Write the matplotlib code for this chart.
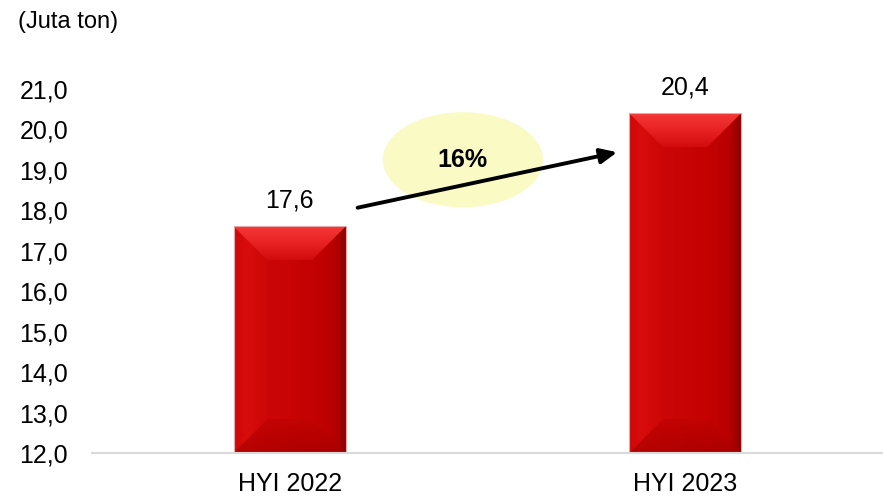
import numpy as np
import matplotlib.pyplot as plt
from matplotlib.patches import Polygon, Ellipse
from matplotlib.colors import LinearSegmentedColormap
from matplotlib.transforms import IdentityTransform

plt.rcParams['font.family'] = ['Liberation Sans', 'DejaVu Sans']

# data
categories = ['HYI 2022', 'HYI 2023']
values = [17.6, 20.4]
value_labels = ['17,6', '20,4']
growth_label = '16%'
yticks = np.arange(12, 21.5, 1.0)
ytick_labels = [f'{v:.1f}'.replace('.', ',') for v in yticks]

fig = plt.figure(figsize=(8.83, 4.97), dpi=100)
ax = fig.add_axes([0.104, 0.0885, 0.896, 0.7325])
x = np.arange(len(categories))
bar_w = 0.283

bars = ax.bar(x, np.array(values) - 12, bottom=12, width=bar_w, color='#C80606',
              edgecolor='none', zorder=2)
ax.set_xlim(-0.5, 1.5)
ax.set_ylim(12, 21)
ax.set_yticks(yticks)
ax.set_yticklabels(ytick_labels)
ax.set_xticks(x)
ax.set_xticklabels(categories)
ax.tick_params(axis='y', length=0, pad=17, labelsize=18)
ax.tick_params(axis='x', length=0, pad=14, labelsize=18)
for s in ['left', 'right', 'top']:
    ax.spines[s].set_visible(False)
ax.spines['bottom'].set_color('#D9D9D9')
ax.spines['bottom'].set_linewidth(1.5)

# bevel effect drawn in pixel space
fig.canvas.draw()
hgrad = np.linspace(0, 1, 200).reshape(1, -1)
vgrad = np.linspace(0, 1, 100).reshape(-1, 1)
face_cmap = LinearSegmentedColormap.from_list(
    'f', [(0, '#D00808'), (0.12, '#D80C0C'), (0.3, '#CC0606'), (0.7, '#C40202'),
          (0.9, '#B80000'), (1, '#8E0000')])
top_cmap = LinearSegmentedColormap.from_list('t', ['#F63838', '#E82222', '#D20C0C'])
bot_cmap = LinearSegmentedColormap.from_list('b', ['#C20404', '#B40000', '#A60000'])
for b in bars:
    bx0, bx1 = b.get_x(), b.get_x() + b.get_width()
    by0, by1 = b.get_y(), b.get_y() + b.get_height()
    x0, y0 = ax.transData.transform((bx0, by0))
    x1, y1 = ax.transData.transform((bx1, by1))
    d = 34
    img = ax.imshow(hgrad, extent=(bx0, bx1, by0, by1), cmap=face_cmap, aspect='auto',
                    zorder=2.1, interpolation='bilinear')
    img.set_clip_path(b)
    dy = ax.transData.inverted().transform((x0, y1 - d))[1]
    top = Polygon([(x0, y1), (x1, y1), (x1 - d, y1 - d), (x0 + d, y1 - d)], closed=True,
                  facecolor='none', edgecolor='none', transform=IdentityTransform())
    ax.add_patch(top)
    timg = ax.imshow(vgrad, extent=(bx0, bx1, dy, by1), cmap=top_cmap, aspect='auto',
                     origin='upper', zorder=2.2, interpolation='bilinear')
    timg.set_clip_path(top)
    dy0 = ax.transData.inverted().transform((x0, y0 + d))[1]
    bot = Polygon([(x0, y0), (x1, y0), (x1 - d, y0 + d), (x0 + d, y0 + d)], closed=True,
                  facecolor='none', edgecolor='none', transform=IdentityTransform())
    ax.add_patch(bot)
    bimg = ax.imshow(vgrad, extent=(bx0, bx1, by0, dy0), cmap=bot_cmap, aspect='auto',
                     origin='upper', zorder=2.2, interpolation='bilinear', alpha=0.7)
    bimg.set_clip_path(bot)
    ax.add_patch(Polygon([(x0, y0), (x1, y0), (x1, y1), (x0, y1)], closed=True, fill=False,
                         edgecolor='#E4A8A8', linewidth=0.8, transform=IdentityTransform(), zorder=2.3))

ax.set_xlim(-0.5, 1.5)
ax.set_ylim(12, 21)

for xi, v, lab in zip(x, values, value_labels):
    ax.annotate(lab, (xi, v), xytext=(0, 10), textcoords='offset points',
                ha='center', va='bottom', fontsize=18)

# growth bubble and arrow
ax.add_patch(Ellipse((0.438, 19.25), 0.405, 2.35, facecolor='#FAFAC4', edgecolor='none', zorder=1))
ax.text(0.438, 19.25, growth_label, ha='center', va='center', fontsize=18, fontweight='bold', zorder=4)
ax.annotate('', xy=(0.835, 19.45), xytext=(0.165, 18.05),
            arrowprops=dict(arrowstyle='-|>,head_length=1.0,head_width=0.45', color='black', lw=2.8),
            zorder=4)

fig.text(0.02, 0.955, '(Juta ton)', fontsize=17, ha='left', va='center')

fig.savefig('out.png', dpi=100)
